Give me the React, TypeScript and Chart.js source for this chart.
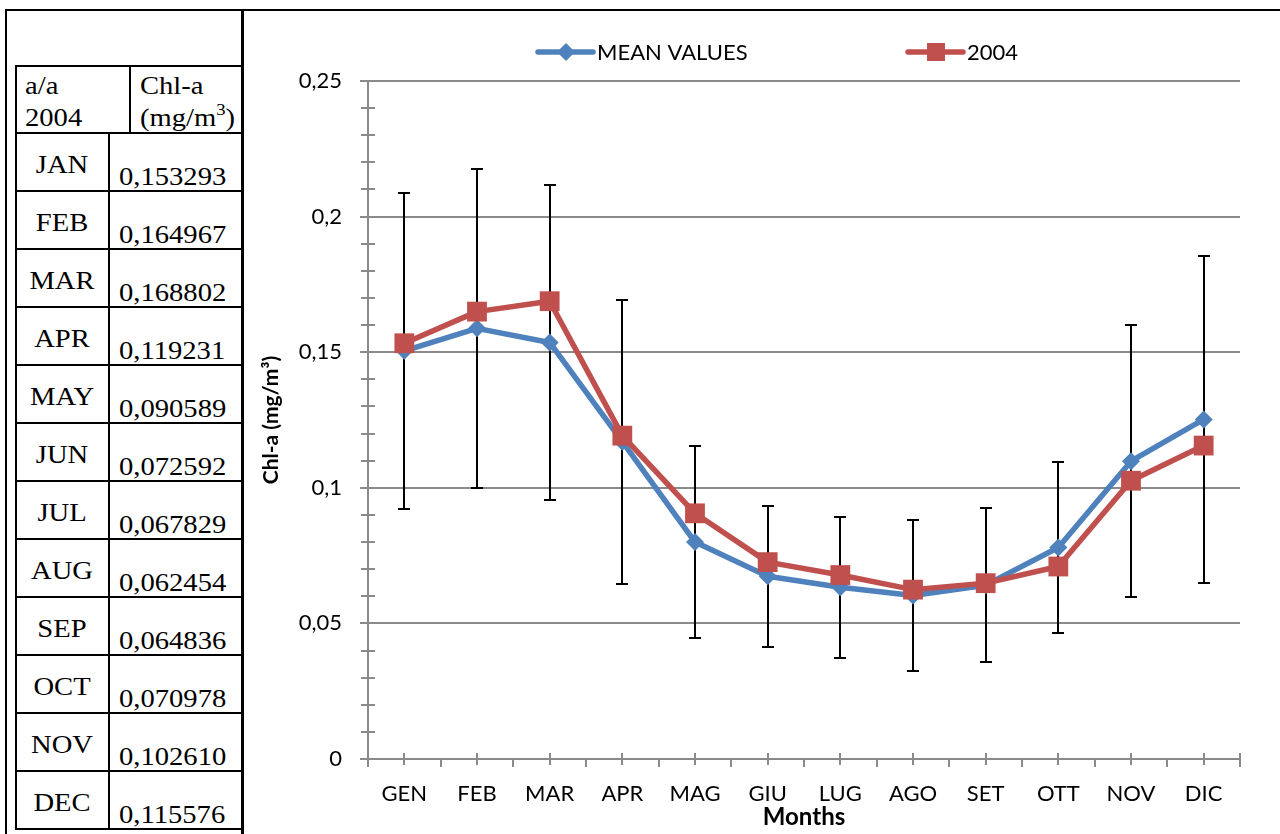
import React, { useEffect, useRef } from "react";
import { Chart, registerables } from "chart.js";

Chart.register(...registerables);

// Monthly chlorophyll-a concentrations
const months = ["GEN", "FEB", "MAR", "APR", "MAG", "GIU", "LUG", "AGO", "SET", "OTT", "NOV", "DIC"];
const meanValues = [0.1505, 0.1588, 0.1536, 0.117, 0.08, 0.0674, 0.0633, 0.0603, 0.0641, 0.078, 0.1098, 0.1252];
const meanErrors = [0.0582, 0.0587, 0.058, 0.0523, 0.0355, 0.026, 0.026, 0.0278, 0.0285, 0.0314, 0.0501, 0.0602];
const values2004 = [0.153293, 0.164967, 0.168802, 0.119231, 0.090589, 0.072592, 0.067829, 0.062454, 0.064836, 0.070978, 0.10261, 0.115576];
const tableMonths = ["JAN", "FEB", "MAR", "APR", "MAY", "JUN", "JUL", "AUG", "SEP", "OCT", "NOV", "DEC"];
const yMajorTicks = [0, 0.05, 0.1, 0.15, 0.2, 0.25];
const yMinorStep = 0.01;

const BLUE = "#4F81BD";
const RED = "#C0504D";
const AXIS_GREY = "#8a8a8a";
const FONT = "Lato";

const fmt = (v: number) => String(Math.round(v * 100) / 100).replace(".", ",");

const decorPlugin = {
  id: "decor",
  beforeDatasetsDraw(chart: any) {
    const { ctx, chartArea: a, scales } = chart;
    const x = scales.x;
    const y = scales.y;
    const seg = (x1: number, y1: number, x2: number, y2: number) => {
      ctx.beginPath();
      ctx.moveTo(x1, y1);
      ctx.lineTo(x2, y2);
      ctx.stroke();
    };
    ctx.save();
    ctx.strokeStyle = AXIS_GREY;
    ctx.lineWidth = 2;
    // horizontal gridlines at the major ticks
    for (const v of yMajorTicks) {
      const py = Math.round(y.getPixelForValue(v));
      seg(a.left - 8, py, a.right, py);
    }
    // minor tick marks on the value axis
    const top = yMajorTicks[yMajorTicks.length - 1];
    for (let k = 1; k * yMinorStep < top - 1e-9; k++) {
      const v = k * yMinorStep;
      if (Math.abs(v / 0.05 - Math.round(v / 0.05)) < 1e-6) continue;
      const py = Math.round(y.getPixelForValue(v));
      seg(a.left - 7, py, a.left + 7, py);
    }
    // value axis line
    seg(a.left, a.top, a.left, a.bottom + 8);
    // category axis tick marks
    for (let i = 0; i < months.length; i++) {
      const px = Math.round(x.getPixelForValue(i));
      seg(px, a.bottom - 6, px, a.bottom + 6);
      const bx = Math.round(x.getPixelForValue(i + 0.5));
      if (i === months.length - 1) seg(bx, a.bottom - 6, bx, a.bottom + 8);
      else seg(bx, a.bottom, bx, a.bottom + 8);
    }
    // error bars on the mean series
    ctx.strokeStyle = "#000";
    ctx.lineWidth = 2;
    for (let i = 0; i < meanValues.length; i++) {
      const px = Math.round(x.getPixelForValue(i));
      const hi = Math.round(y.getPixelForValue(meanValues[i] + meanErrors[i]));
      const lo = Math.round(y.getPixelForValue(meanValues[i] - meanErrors[i]));
      seg(px, hi, px, lo);
      seg(px - 6, hi, px + 6, hi);
      seg(px - 6, lo, px + 6, lo);
    }
    ctx.restore();
  },
  afterDraw(chart: any) {
    const { ctx } = chart;
    const items = [
      { label: "MEAN VALUES", color: BLUE, diamond: true, x0: 294 },
      { label: "2004", color: RED, diamond: false, x0: 664 },
    ];
    const ly = 40;
    ctx.save();
    for (const it of items) {
      ctx.strokeStyle = it.color;
      ctx.fillStyle = it.color;
      ctx.lineWidth = 5.5;
      ctx.lineCap = "round";
      ctx.beginPath();
      ctx.moveTo(it.x0, ly);
      ctx.lineTo(it.x0 + 55, ly);
      ctx.stroke();
      const cx = it.x0 + 28;
      ctx.beginPath();
      if (it.diamond) {
        ctx.moveTo(cx, ly - 9);
        ctx.lineTo(cx + 9, ly);
        ctx.lineTo(cx, ly + 9);
        ctx.lineTo(cx - 9, ly);
        ctx.closePath();
      } else {
        ctx.rect(cx - 9, ly - 9, 18, 18);
      }
      ctx.fill();
      ctx.fillStyle = "#000";
      ctx.font = `22px ${FONT}`;
      ctx.textBaseline = "middle";
      ctx.textAlign = "left";
      ctx.fillText(it.label, it.x0 + 59, ly + 1);
    }
    ctx.restore();
  },
};

function ChlChart() {
  const ref = useRef<HTMLCanvasElement | null>(null);
  useEffect(() => {
    if (!ref.current) return;
    const chart = new Chart(ref.current, {
      type: "line",
      data: {
        labels: months,
        datasets: [
          {
            label: "MEAN VALUES",
            data: meanValues,
            borderColor: BLUE,
            backgroundColor: BLUE,
            pointBackgroundColor: BLUE,
            pointBorderColor: BLUE,
            borderWidth: 5.5,
            pointStyle: "rectRot",
            pointRadius: 9,
            pointBorderWidth: 0,
            borderJoinStyle: "round",
            borderCapStyle: "round",
            tension: 0,
            order: 1,
          },
          {
            label: "2004",
            data: values2004,
            borderColor: RED,
            backgroundColor: RED,
            pointBackgroundColor: RED,
            pointBorderColor: RED,
            borderWidth: 5.5,
            pointStyle: "rect",
            pointRadius: 14,
            pointBorderWidth: 0,
            borderJoinStyle: "round",
            borderCapStyle: "round",
            tension: 0,
            order: 0,
          },
        ],
      },
      options: {
        animation: false,
        responsive: false,
        devicePixelRatio: 1,
        events: [],
        layout: { padding: { top: 69, right: 40, left: 0, bottom: 0 } },
        plugins: { legend: { display: false }, tooltip: { enabled: false } },
        scales: {
          x: {
            type: "category",
            offset: true,
            grid: { display: false, drawTicks: false },
            border: { display: false },
            ticks: { color: "#000", font: { family: FONT, size: 22 }, padding: 22, maxRotation: 0, autoSkip: false },
            title: {
              display: true,
              text: "Months",
              color: "#000",
              font: { family: FONT, size: 24, weight: "bold" },
              padding: { top: 0, bottom: 2 },
            },
            afterFit: (s: any) => {
              s.height = 75;
            },
          },
          y: {
            min: 0,
            max: 0.25,
            grid: { display: false, drawTicks: false },
            border: { display: false },
            ticks: {
              stepSize: 0.05,
              color: "#000",
              font: { family: FONT, size: 22 },
              padding: 26,
              callback: (v: any) => fmt(Number(v)),
            },
            title: {
              display: true,
              text: "Chl-a (mg/m³)",
              color: "#000",
              font: { family: FONT, size: 21, weight: "bold" },
              padding: { top: 15, bottom: 0 },
            },
            afterFit: (s: any) => {
              s.width = 124;
            },
          },
        },
      },
      plugins: [decorPlugin],
    } as any);
    return () => chart.destroy();
  }, []);
  return (
    <canvas
      ref={ref}
      width={1036}
      height={822}
      style={{ position: "absolute", left: 244, top: 12, width: 1036, height: 822 }}
    />
  );
}

function DataTable() {
  const rowTop = 133;
  const rowH = 58;
  const serif = "'Liberation Serif', 'Times New Roman', serif";
  const sx = 1.1;
  const txt = (x: number, y: number, s: React.ReactNode, anchor: string = "start", key?: string) => (
    <text
      key={key}
      transform={`translate(${x},${y}) scale(${sx},1)`}
      fontFamily={serif}
      fontSize={26}
      textAnchor={anchor}
      fill="#000"
    >
      {s}
    </text>
  );
  const lines: React.ReactNode[] = [];
  for (let k = 0; k <= tableMonths.length; k++) {
    lines.push(<rect key={`h${k}`} x={15} y={rowTop + rowH * k - 1} width={226} height={2} fill="#000" />);
  }
  return (
    <svg width={1280} height={834} style={{ position: "absolute", left: 0, top: 0 }}>
      {/* frame */}
      <rect x={5} y={9} width={1275} height={2} fill="#000" />
      <rect x={5} y={9} width={2} height={825} fill="#000" />
      <rect x={241} y={9} width={3} height={825} fill="#000" />
      {/* table grid */}
      <rect x={15} y={65} width={226} height={2} fill="#000" />
      <rect x={15} y={65} width={2} height={rowTop + rowH * tableMonths.length - 64} fill="#000" />
      <rect x={129} y={65} width={2} height={rowTop - 65} fill="#000" />
      <rect x={108} y={rowTop} width={2} height={rowH * tableMonths.length} fill="#000" />
      {lines}
      {/* header */}
      {txt(25, 94, "a/a")}
      {txt(25, 126, "2004")}
      {txt(140, 94, "Chl-a")}
      {txt(
        140,
        126,
        <>
          (mg/m
          <tspan fontSize={17} dy={-11}>
            3
          </tspan>
          <tspan dy={11}>)</tspan>
        </>
      )}
      {/* rows */}
      {tableMonths.map((m, i) => txt(62, rowTop + rowH * i + 40, m, "middle", `m${i}`))}
      {values2004.map((v, i) => txt(119, rowTop + rowH * i + 52, v.toFixed(6).replace(".", ","), "start", `v${i}`))}
    </svg>
  );
}

export default function App() {
  return (
    <div style={{ position: "absolute", left: 0, top: 0, width: 1280, height: 834, background: "#fff", overflow: "hidden" }}>
      <DataTable />
      <ChlChart />
    </div>
  );
}
